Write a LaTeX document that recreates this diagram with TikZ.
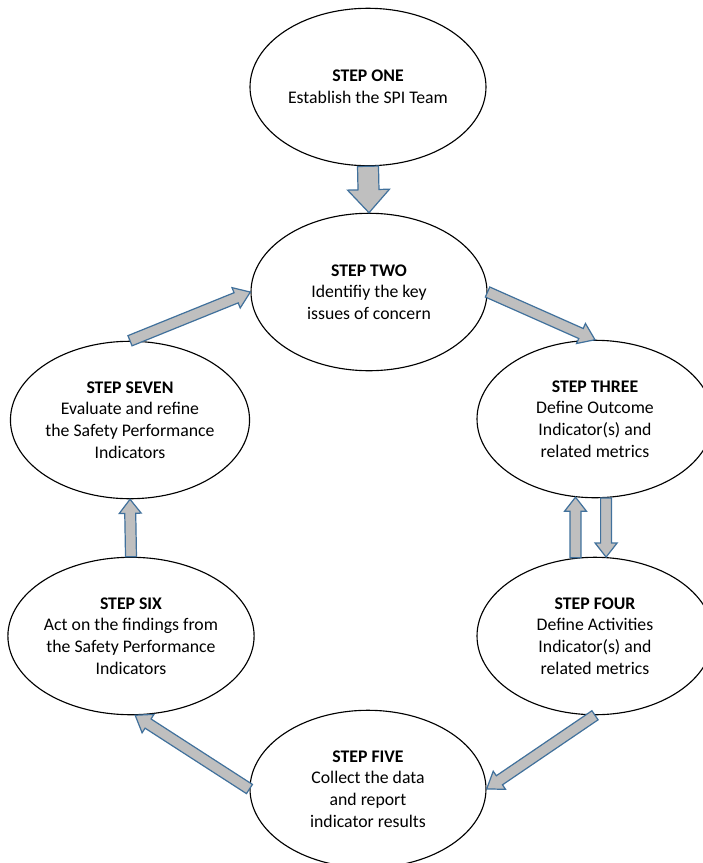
\documentclass[tikz,border=0pt]{standalone}
\usepackage{fontspec}
\setmainfont{Carlito}
\usetikzlibrary{shapes.geometric,calc}
\definecolor{arrowfill}{RGB}{191,191,191}
\definecolor{arrowline}{RGB}{65,113,156}
\tikzset{
	stepnode/.style={draw=black, line width=0.7pt, ellipse, fill=white, inner sep=0pt,
		minimum width=146.3pt, minimum height=97.6pt, align=center,
		font=\fontsize{11}{13.4}\selectfont},
	blockarrow/.style={draw=arrowline, fill=arrowfill, line width=0.75pt, line join=miter}
}
% block arrow: from, to, shaft half width, head half width, head length
\newcommand{\blockarrow}[5]{%
	\draw[blockarrow] let \p1=(#1), \p2=(#2),
		\n1={atan2(\y2-\y1,\x2-\x1)}, \n2={veclen(\x2-\x1,\y2-\y1)} in
		[shift={(\p1)}, rotate=\n1]
		(0pt,-#3) -- ({\n2-#5},-#3) -- ({\n2-#5},-#4) -- (\n2,0pt)
		-- ({\n2-#5},#4) -- ({\n2-#5},#3) -- (0pt,#3) -- cycle;
}
\begin{document}
\begin{tikzpicture}[x=0.62pt, y=-0.62pt]
	\useasboundingbox (0,0) rectangle (703,863);
	\node[stepnode] (one) at (368,87) {\textbf{STEP ONE}\\Establish the SPI Team};
	\node[stepnode] (two) at (369,292) {\textbf{STEP TWO}\\Identifiy the key\\issues of concern};
	\node[stepnode] (three) at (595,419) {\textbf{STEP THREE}\\Define Outcome\\Indicator(s) and\\related metrics};
	\node[stepnode] (four) at (595,636) {\textbf{STEP FOUR}\\Define Activities\\Indicator(s) and\\related metrics};
	\node[stepnode] (five) at (368,789) {\textbf{STEP FIVE}\\Collect the data\\and report\\indicator results};
	\node[stepnode] (six) at (131,636) {\textbf{STEP SIX}\\Act on the findings from\\the Safety Performance\\Indicators};
	\node[stepnode] (seven) at (130,420) {\textbf{STEP SEVEN}\\Evaluate and refine\\the Safety Performance\\Indicators};
	\blockarrow{one.south}{two.north}{6.5pt}{13pt}{14.3pt}
	\blockarrow{two.east}{three.north}{3.4pt}{6.8pt}{9.5pt}
	\blockarrow{three.-82}{four.82}{3.4pt}{6.8pt}{8.7pt}
	\blockarrow{four.104}{three.-104}{3.4pt}{6.8pt}{8.7pt}
	\blockarrow{four.south}{five.east}{3.4pt}{6.8pt}{9.5pt}
	\blockarrow{five.west}{six.-87}{3.4pt}{6.8pt}{9.5pt}
	\blockarrow{six.north}{seven.south}{3.4pt}{6.8pt}{8.7pt}
	\blockarrow{seven.north}{two.west}{3.4pt}{6.8pt}{9.5pt}
\end{tikzpicture}
\end{document}
